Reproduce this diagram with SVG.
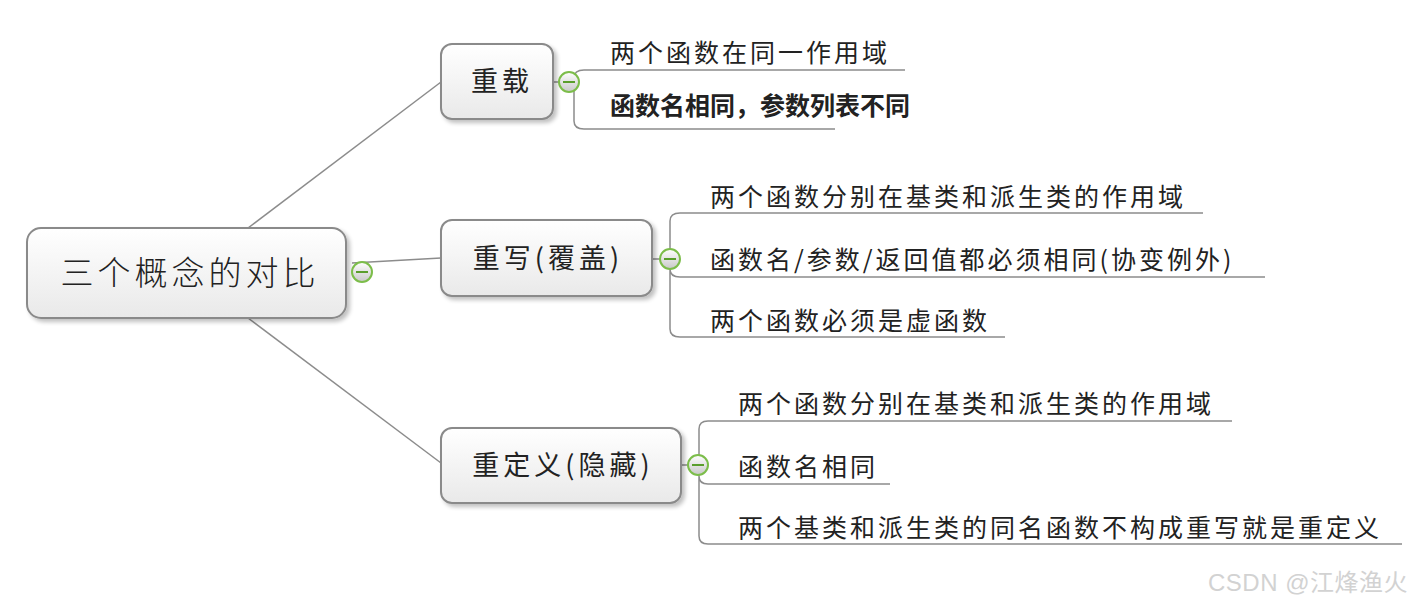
<svg xmlns="http://www.w3.org/2000/svg" width="1422" height="609" viewBox="0 0 1422 609">
<defs>
<linearGradient id="ng" x1="0" y1="0" x2="0" y2="1">
<stop offset="0" stop-color="#ffffff"/>
<stop offset="1" stop-color="#e9e9e9"/>
</linearGradient>
<linearGradient id="cg" x1="0" y1="0" x2="0" y2="1">
<stop offset="0" stop-color="#ffffff"/>
<stop offset="1" stop-color="#c8c8c8"/>
</linearGradient>
<filter id="sh" x="-10%" y="-10%" width="130%" height="140%">
<feGaussianBlur in="SourceAlpha" stdDeviation="2"/>
<feOffset dx="3" dy="3" result="b"/>
<feComponentTransfer><feFuncA type="linear" slope="0.25"/></feComponentTransfer>
<feMerge><feMergeNode/><feMergeNode in="SourceGraphic"/></feMerge>
</filter>
<g id="tog">
<circle cx="0" cy="0" r="10" fill="url(#cg)" stroke="#7cbd4a" stroke-width="2"/>
<line x1="-6" y1="0" x2="6" y2="0" stroke="#5a9e2c" stroke-width="2"/>
</g>
</defs>
<style>
.node{fill:url(#ng);stroke:#8a8a8a;stroke-width:2;filter:url(#sh)}
.conn{fill:none;stroke:#8c8c8c;stroke-width:1.5}
.t{font-family:"Noto Sans CJK SC","Liberation Sans",sans-serif;fill:#222;}
.leaf{font-size:25px;letter-spacing:3px}
.mid{font-size:27px;letter-spacing:4px;text-anchor:middle}
.wm{font-family:"Liberation Sans","Noto Sans CJK SC",sans-serif;font-size:24px;letter-spacing:0.5px;fill:#d2d2d2}
</style>
<rect width="1422" height="609" fill="#ffffff"/>

<g id="connectors">
<line class="conn" x1="248" y1="228" x2="441" y2="82"/>
<line class="conn" x1="248" y1="318" x2="441" y2="463"/>
<line class="conn" x1="352" y1="263" x2="441" y2="258"/>
<path class="conn" d="M553 82 H560"/>
<path class="conn" d="M652 259 H660"/>
<path class="conn" d="M681 465 H688"/>
<path class="conn" d="M905 70 H584 Q574 70 574 78 V121 Q574 129 584 129 H835"/>
<path class="conn" d="M1203 213 H680 Q670 213 670 221 V269 Q670 277 680 277 H1265 M670 269 V329 Q670 337 680 337 H1005"/>
<path class="conn" d="M1232 421 H708 Q699 421 699 429 V476 Q699 484 708 484 H890 M699 476 V536 Q699 544 708 544 H1402"/>
</g>

<g id="root">
<rect class="node" x="27" y="228" width="319" height="90" rx="14"/>
<text class="t" x="190" y="285" font-size="33" font-weight="300" letter-spacing="4" text-anchor="middle">三个概念的对比</text>
<use href="#tog" x="362" y="272"/>
</g>

<g id="n1">
<rect class="node" x="441" y="44" width="112" height="75" rx="11"/>
<text class="t mid" x="502" y="91">重载</text>
<use href="#tog" x="569" y="82"/>
</g>
<g id="n1c1"><text class="t leaf" x="610" y="62">两个函数在同一作用域</text></g>
<g id="n1c2"><text class="t" x="610" y="115" font-size="25" font-weight="bold">函数名相同，参数列表不同</text></g>

<g id="n2">
<rect class="node" x="441" y="220" width="211" height="76" rx="11"/>
<text class="t mid" x="548" y="268">重写(覆盖)</text>
<use href="#tog" x="670" y="259"/>
</g>
<g id="n2c1"><text class="t leaf" x="710" y="206">两个函数分别在基类和派生类的作用域</text></g>
<g id="n2c2"><text class="t leaf" x="710" y="269">函数名/参数/返回值都必须相同(协变例外)</text></g>
<g id="n2c3"><text class="t leaf" x="710" y="330">两个函数必须是虚函数</text></g>

<g id="n3">
<rect class="node" x="441" y="428" width="240" height="75" rx="11"/>
<text class="t mid" x="563" y="475">重定义(隐藏)</text>
<use href="#tog" x="698" y="465"/>
</g>
<g id="n3c1"><text class="t leaf" x="738" y="413">两个函数分别在基类和派生类的作用域</text></g>
<g id="n3c2"><text class="t leaf" x="738" y="476">函数名相同</text></g>
<g id="n3c3"><text class="t leaf" x="738" y="537">两个基类和派生类的同名函数不构成重写就是重定义</text></g>

<text class="wm" x="1208" y="591">CSDN @江烽渔火</text>
</svg>
